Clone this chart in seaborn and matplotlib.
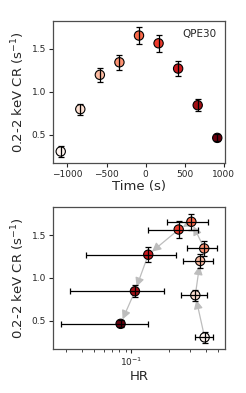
import numpy as np
import pandas as pd
import matplotlib
matplotlib.use("Agg")
import matplotlib.pyplot as plt
import seaborn as sns

# QPE30 light curve and hardness ratio
time = [-1085, -835, -585, -335, -85, 165, 415, 665, 915]
rate = [0.307, 0.799, 1.198, 1.344, 1.655, 1.565, 1.271, 0.845, 0.465]
rate_err = [0.06, 0.065, 0.08, 0.09, 0.096, 0.10, 0.09, 0.07, 0.04]
hr = [0.39, 0.328, 0.359, 0.387, 0.305, 0.241, 0.137, 0.107, 0.082]
hr_err = [0.066, 0.077, 0.099, 0.106, 0.112, 0.105, 0.094, 0.075, 0.055]

df = pd.DataFrame({"time": time, "rate": rate, "rate_err": rate_err,
                   "hr": hr, "hr_err": hr_err})

sns.set_theme(style="ticks")
plt.rcParams["font.family"] = ["DejaVu Sans"]
plt.rcParams["axes.edgecolor"] = "0.3"

fig = plt.figure(figsize=(2.46, 3.93), dpi=100)
ax1 = fig.add_axes([0.215, 0.585, 0.70, 0.362])
ax2 = fig.add_axes([0.215, 0.112, 0.70, 0.361])

ylab = "0.2-2 keV CR (s$^{-1}$)"

# top panel: count rate vs time
sns.scatterplot(data=df, x="time", y="rate", hue="time", palette="Reds",
                s=45, edgecolor="black", linewidth=0.8, legend=False,
                ax=ax1, zorder=1)
ax1.errorbar(df["time"], df["rate"], yerr=df["rate_err"], fmt="none",
             ecolor="black", elinewidth=0.9, capsize=2.2, capthick=0.9, zorder=2)
ax1.set_xlabel("Time (s)", fontsize=9.5, labelpad=1)
ax1.set_ylabel(ylab, fontsize=9.5, labelpad=3)
ax1.text(0.95, 0.945, "QPE30", transform=ax1.transAxes, ha="right", va="top",
         fontsize=7.5)
ax1.set_xticks([-1000, -500, 0, 500, 1000])
ax1.set_yticks([0.5, 1.0, 1.5])

# bottom panel: count rate vs hardness ratio
sns.scatterplot(data=df, x="hr", y="rate", hue="time", palette="Reds",
                s=45, edgecolor="black", linewidth=0.8, legend=False,
                ax=ax2, zorder=1)
ax2.errorbar(df["hr"], df["rate"], xerr=df["hr_err"], yerr=df["rate_err"],
             fmt="none", ecolor="black", elinewidth=0.9, capsize=2.2,
             capthick=0.9, zorder=2)
for i in range(len(hr) - 1):
    ax2.annotate("", xy=(hr[i + 1], rate[i + 1]), xytext=(hr[i], rate[i]),
                 arrowprops=dict(arrowstyle="-|>,head_length=0.7,head_width=0.35",
                                 color="#bdbdbd", lw=0.9, shrinkA=3.5, shrinkB=3.5,
                                 mutation_scale=7.5),
                 zorder=0.5)
ax2.set_xscale("log")
ax2.set_xlabel("HR", fontsize=9.5, labelpad=1)
ax2.set_ylabel(ylab, fontsize=9.5, labelpad=3)
ax2.set_yticks([0.5, 1.0, 1.5])

for ax in (ax1, ax2):
    ax.tick_params(labelsize=6.5, length=3, width=0.8, pad=2)
    ax.tick_params(which="minor", length=1.8, width=0.6)
    for sp in ax.spines.values():
        sp.set_linewidth(0.9)

fig.savefig("out.png", dpi=100)
